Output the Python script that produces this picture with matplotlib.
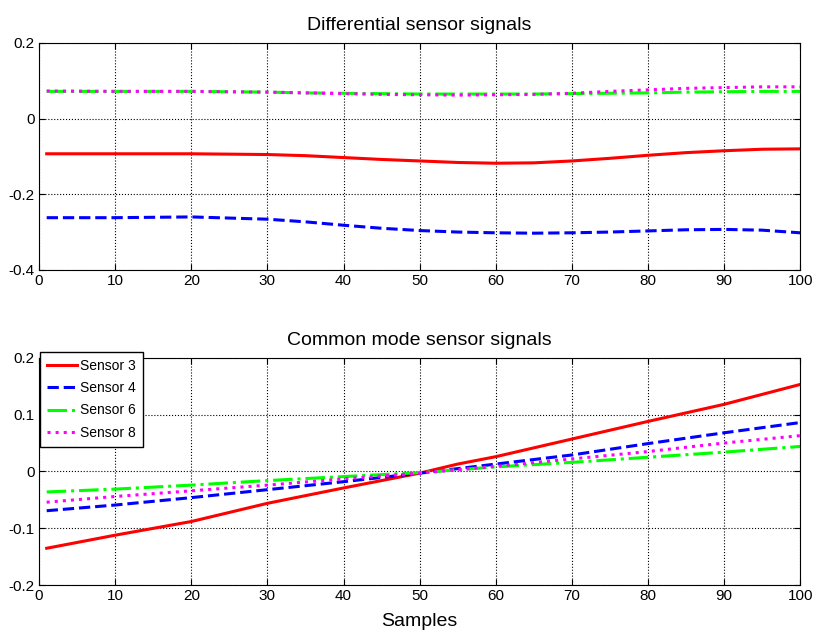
import matplotlib.pyplot as plt
import numpy as np

plt.rcParams['font.family'] = ['Liberation Sans', 'DejaVu Sans']

# differential mode signals (sample index -> value)
diff_x = [1, 10, 20, 30, 35, 40, 45, 50, 55, 60, 65, 70, 75, 80, 85, 90, 95, 100]
diff_s3 = [-0.093, -0.093, -0.093, -0.095, -0.098, -0.103, -0.108, -0.112, -0.116, -0.118,
           -0.117, -0.112, -0.105, -0.097, -0.090, -0.085, -0.081, -0.080]
diff_s4 = [-0.262, -0.262, -0.260, -0.266, -0.273, -0.282, -0.290, -0.296, -0.300, -0.302,
           -0.303, -0.302, -0.300, -0.297, -0.294, -0.293, -0.295, -0.302]
diff_s6 = [0.072, 0.072, 0.072, 0.070, 0.068, 0.067, 0.066, 0.065, 0.065, 0.065,
           0.065, 0.066, 0.067, 0.068, 0.070, 0.071, 0.072, 0.072]
diff_s8 = [0.073, 0.072, 0.072, 0.070, 0.068, 0.066, 0.064, 0.063, 0.062, 0.063,
           0.064, 0.067, 0.072, 0.076, 0.080, 0.082, 0.084, 0.084]

# common mode signals
cm_x = [1, 10, 20, 30, 40, 50, 55, 60, 70, 80, 90, 100]
cm_s3 = [-0.135, -0.112, -0.088, -0.056, -0.029, -0.003, 0.013, 0.026, 0.057, 0.088, 0.118, 0.153]
cm_s4 = [-0.069, -0.059, -0.046, -0.032, -0.018, -0.003, 0.005, 0.013, 0.029, 0.049, 0.068, 0.086]
cm_s6 = [-0.036, -0.031, -0.024, -0.016, -0.009, -0.002, 0.003, 0.008, 0.016, 0.025, 0.034, 0.044]
cm_s8 = [-0.054, -0.044, -0.034, -0.024, -0.013, -0.003, 0.003, 0.009, 0.022, 0.035, 0.050, 0.063]

labels = ['Sensor 3', 'Sensor 4', 'Sensor 6', 'Sensor 8']
styles = [('r', '-'), ('b', '--'), ((0, 1, 0), '-.'), ((1, 0, 1), ':')]
x_ticks = np.arange(0, 101, 10)


def style_axes(ax, yticks, ylim, title):
    ax.set_xlim(0, 100)
    ax.set_ylim(*ylim)
    ax.set_xticks(x_ticks)
    ax.set_yticks(yticks)
    ax.set_yticklabels([('%g' % t) for t in yticks])
    ax.tick_params(direction='in', top=True, right=True, labelsize=11, length=4, pad=3)
    ax.grid(True, color='k', linestyle=':', linewidth=0.8)
    ax.set_title(title, fontsize=14, pad=9)


fig = plt.figure(figsize=(8.14, 6.32), dpi=100)
ax1 = fig.add_axes([0.048, 0.573, 0.935, 0.359])
ax2 = fig.add_axes([0.048, 0.074, 0.935, 0.360])

for series, (c, ls) in zip([diff_s3, diff_s4, diff_s6, diff_s8], styles):
    ax1.plot(diff_x, series, color=c, linestyle=ls, linewidth=2.2)
style_axes(ax1, [-0.4, -0.2, 0, 0.2], (-0.4, 0.2), 'Differential sensor signals')

for series, (c, ls), lab in zip([cm_s3, cm_s4, cm_s6, cm_s8], styles, labels):
    ax2.plot(cm_x, series, color=c, linestyle=ls, linewidth=2.2, label=lab)
style_axes(ax2, [-0.2, -0.1, 0, 0.1, 0.2], (-0.2, 0.2), 'Common mode sensor signals')
ax2.set_xlabel('Samples', fontsize=14, labelpad=7)

leg = ax2.legend(loc='upper left', bbox_to_anchor=(0.001, 1.026), borderaxespad=0,
                 fontsize=10, fancybox=False, framealpha=1, edgecolor='k',
                 handlelength=2.2, handletextpad=0.2, borderpad=0.5, labelspacing=0.6)
leg.get_frame().set_linewidth(1)

fig.savefig('out.png', dpi=100)
